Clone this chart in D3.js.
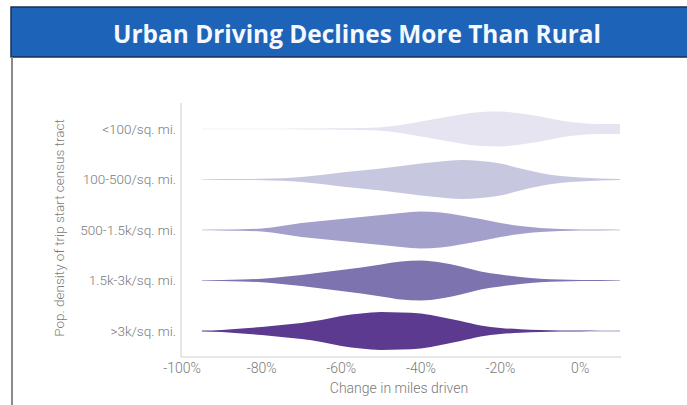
<!DOCTYPE html>
<html><head><meta charset="utf-8">
<script src="https://cdn.jsdelivr.net/npm/d3@7"></script>
<style>body{margin:0;background:#fff;}svg{display:block;}</style>
</head><body>
<svg id="c" width="687" height="405"></svg>
<script>
const title = "Urban Driving Declines More Than Rural";
const categories = ["<100/sq. mi.", "100-500/sq. mi.", "500-1.5k/sq. mi.", "1.5k-3k/sq. mi.", ">3k/sq. mi."];
const xGrid = [-95,-90,-85,-80,-75,-70,-65,-60,-55,-50,-45,-40,-35,-30,-25,-20,-15,-10,-5,0,5,10];
const densLt100   = [0.3,0.3,0.3,0.3,0.3,0.4,0.5,0.7,1,1.8,4,7.5,11,14.5,17,17.5,15.5,12.5,8.5,6,5,5];
const dens100_500 = [0.3,0.4,0.5,0.7,1.2,2.5,4.5,7,9,11,13.5,16,18,19.5,18.5,16,11,6.5,3.5,2,1,0.5];
const dens500_1500= [0.3,0.4,0.8,1.5,4,7,9,11,13,15,17,18.5,17.5,14.5,11,7,4,2,1,0.6,0.4,0.3];
const dens1500_3k = [0.3,0.5,0.9,1.8,3.5,5.5,8,10.5,13,16,19,20,18,14,9,6,3.5,1.8,1,0.6,0.4,0.3];
const densGt3k    = [0.4,1,2.5,4,6,8,11,15,17.5,19,18.5,17.5,14,10,5.5,3,1.8,1,0.6,0.4,0.3,0.3];
const seriesDens = [densLt100, dens100_500, dens500_1500, dens1500_3k, densGt3k];
const colors = ["#e5e4f0", "#c8c7e0", "#a3a1cb", "#7d73ae", "#5b3a90"];
const xTicks = [-100,-80,-60,-40,-20,0];
const xTitle = "Change in miles driven";
const yTitle = "Pop. density of trip start census tract";

const svg = d3.select("#c");
// banner
svg.append("rect").attr("x",11).attr("y",7).attr("width",680).attr("height",50)
  .attr("fill","#1d63b7").attr("stroke","#1b2f52").attr("stroke-width",1.5);
svg.append("text").attr("x",357).attr("y",43).attr("text-anchor","middle")
  .attr("fill","#f4f8ff").attr("font-family","'Open Sans', sans-serif")
  .attr("font-weight",700).attr("font-size",25)
  .attr("textLength",488).attr("lengthAdjust","spacingAndGlyphs").text(title);
svg.append("line").attr("x1",12).attr("x2",12).attr("y1",57).attr("y2",405)
  .attr("stroke","#8a8a8a").attr("stroke-width",2);

const x = d3.scaleLinear().domain([-100,10]).range([182,620]);
const y = d3.scalePoint().domain(categories).range([129,331]);
const w = d3.scaleLinear().domain([0,20]).range([0,20]);

// axes lines
svg.append("line").attr("x1",181).attr("x2",181).attr("y1",103).attr("y2",357).attr("stroke","#cfcfcf");
svg.append("line").attr("x1",181).attr("x2",621).attr("y1",357).attr("y2",357).attr("stroke","#cfcfcf");

const lab = {fam:"Roboto, sans-serif", fill:"#7a7a7a", w:300};
categories.forEach((c,i)=>{
  const pts = xGrid.map((v,j)=>({x:v,d:seriesDens[i][j]}));
  const area = d3.area().curve(d3.curveMonotoneX)
    .x(p=>x(p.x)).y0(p=>y(c)-w(p.d)).y1(p=>y(c)+w(p.d));
  svg.append("path").attr("d",area(pts)).attr("fill",colors[i]);
  svg.append("text").attr("x",176).attr("y",y(c)+4.5).attr("text-anchor","end")
    .attr("font-family",lab.fam).attr("font-weight",lab.w).attr("font-size",13.5).attr("fill",lab.fill).text(c);
});

xTicks.forEach(t=>{
  svg.append("text").attr("x",x(t)).attr("y",373).attr("text-anchor","middle")
    .attr("font-family",lab.fam).attr("font-weight",lab.w).attr("font-size",14).attr("fill",lab.fill).text(t+"%");
});
svg.append("text").attr("x",399).attr("y",393).attr("text-anchor","middle")
  .attr("font-family",lab.fam).attr("font-weight",lab.w).attr("font-size",14).attr("fill",lab.fill).text(xTitle);
svg.append("text").attr("transform","translate(64,228) rotate(-90)").attr("text-anchor","middle")
  .attr("font-family",lab.fam).attr("font-weight",lab.w).attr("font-size",13.5).attr("fill",lab.fill).text(yTitle);
</script>
</body></html>
